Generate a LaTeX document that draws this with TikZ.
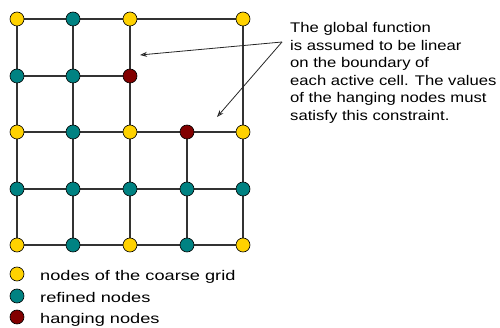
\documentclass[tikz,border=0pt]{standalone}
\usepackage{fontspec}
\setmainfont{Liberation Sans}
\newfontfamily\topfont[FakeStretch=1.19]{Liberation Sans}
\newfontfamily\legfont[FakeStretch=1.3]{Liberation Sans}
\usetikzlibrary{arrows.meta}
\definecolor{coarse}{HTML}{FFD200}
\definecolor{refined}{HTML}{008282}
\definecolor{hanging}{HTML}{820000}
\tikzset{
  gridline/.style={draw=black!80, line width=1.4pt},
  dot/.style={circle, draw=black, line width=0.6pt, minimum size=14pt, inner sep=0pt},
  cdot/.style={dot, fill=coarse},
  rdot/.style={dot, fill=refined},
  hdot/.style={dot, fill=hanging},
  txt/.style={anchor=base west, inner sep=0pt, font=\topfont\fontsize{14pt}{17pt}\selectfont},
  ltxt/.style={anchor=base west, inner sep=0pt, font=\legfont\fontsize{14pt}{17pt}\selectfont},
  pointer/.style={draw=black!85, line width=0.8pt, -{Stealth[open, length=7pt, width=5pt]}}
}
\begin{document}
\begin{tikzpicture}[x=1pt,y=-1pt]
\useasboundingbox (0,0) rectangle (500,328);
% grid coordinates
\foreach \c/\x in {0/17,1/73,2/130,3/187,4/243}{
  \foreach \r/\y in {0/19,1/76,2/132,3/189,4/245}{
    \coordinate (p\c\r) at (\x,\y);
  }
}
% lines
\draw[gridline] (p00) -- (p40);
\draw[gridline] (p01) -- (p21);
\draw[gridline] (p02) -- (p42);
\draw[gridline] (p03) -- (p43);
\draw[gridline] (p04) -- (p44);
\draw[gridline] (p00) -- (p04);
\draw[gridline] (p10) -- (p14);
\draw[gridline] (p20) -- (p24);
\draw[gridline] (p32) -- (p34);
\draw[gridline] (p40) -- (p44);
% nodes
\foreach \p in {p00,p20,p40,p02,p22,p42,p04,p24,p44}{\node[cdot] at (\p) {};}
\foreach \p in {p10,p01,p11,p12,p03,p13,p23,p33,p43,p14,p34}{\node[rdot] at (\p) {};}
\foreach \p in {p21,p32}{\node[hdot] at (\p) {};}
% text
\node[txt] (t1) at (290,33) {The global function};
\node[txt] (t2) at (290,50.5) {is assumed to be linear};
\node[txt] (t3) at (290,68) {on the boundary of};
\node[txt] (t4) at (290,85.5) {each active cell. The values};
\node[txt] (t5) at (290,103) {of the hanging nodes must};
\node[txt] (t6) at (290,120.5) {satisfy this constraint.};
% arrows
\coordinate (src) at (282,42);
\coordinate (tipA) at (140,55);
\coordinate (tipB) at (217,117);
\draw[pointer] (src) -- (tipA);
\draw[pointer] (src) -- (tipB);
% legend
\node[cdot] (l1) at (17,274) {};
\node[rdot] (l2) at (17,296) {};
\node[hdot] (l3) at (17,317) {};
\node[ltxt] (lt1) at (40,281) {nodes of the coarse grid};
\node[ltxt] (lt2) at (40,302) {refined nodes};
\node[ltxt] (lt3) at (40,323) {hanging nodes};
\end{tikzpicture}
\end{document}
